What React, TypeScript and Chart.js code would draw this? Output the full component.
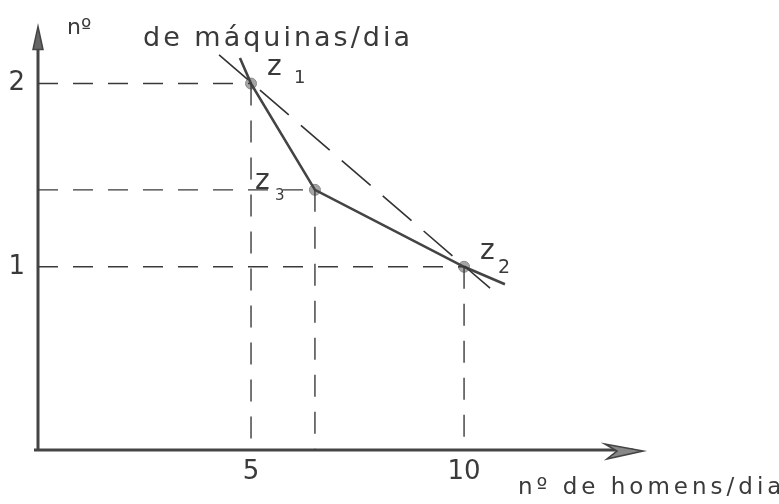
import { useEffect, useRef } from "react";
import { Chart, registerables } from "chart.js";

Chart.register(...registerables);

// Axis tick labels
const xTickValues = [5, 10];
const yTickValues = [1, 2];

// Production points Z1, Z3, Z2 (men/day, machines/day)
const pointNames = ["z", "z", "z"];
const pointSubs = ["1", "3", "2"];
const pointX = [5, 6.5, 10];
const pointY = [2, 1.42, 1];

// Solid polyline Z1 -> Z3 -> Z2, with the pencil overshoot at both ends
const solidX = [4.74, 5, 6.5, 10, 10.96];
const solidY = [2.14, 2, 1.42, 1, 0.905];

// Dashed chord through Z1 and Z2
const chordX = [4.25, 10.61];
const chordY = [2.157, 0.883];

// Axis ranges
const X_MAX = 14.2;
const Y_MAX = 2.3;

const xTitle = "nº de homens/dia";
const yTitleA = "nº";
const yTitleB = "de máquinas/dia";

const INK = "#3a3a3a";
const HAND = "'DejaVu Sans', 'Liberation Sans', sans-serif";

const toPts = (xs: number[], ys: number[]) => xs.map((x, i) => ({ x, y: ys[i] }));

export default function App() {
  const ref = useRef<HTMLCanvasElement | null>(null);

  useEffect(() => {
    if (!ref.current) return;

    const guides: any[] = [];
    pointX.forEach((px, i) => {
      const py = pointY[i];
      guides.push({
        data: [{ x: 0, y: py }, { x: px, y: py }],
        showLine: true,
        borderColor: INK,
        borderWidth: 1.4,
        borderDash: [20, 15],
        pointRadius: 0,
      });
      guides.push({
        data: [{ x: px, y: py }, { x: px, y: 0 }],
        showLine: true,
        borderColor: INK,
        borderWidth: 1.4,
        borderDash: [22, 15],
        pointRadius: 0,
      });
    });

    const axesPlugin = {
      id: "handAxes",
      beforeDatasetsDraw(chart: any) {
        const { ctx, scales } = chart;
        const xs = scales.x;
        const ys = scales.y;
        const x0 = xs.getPixelForValue(0);
        const y0 = ys.getPixelForValue(0);
        ctx.save();
        ctx.strokeStyle = "#444";
        ctx.fillStyle = "#666";
        ctx.lineWidth = 3;
        // vertical axis
        ctx.beginPath();
        ctx.moveTo(x0, y0 + 1);
        ctx.lineTo(x0, ys.top + 18);
        ctx.stroke();
        ctx.beginPath();
        ctx.moveTo(x0, ys.top - 2);
        ctx.lineTo(x0 - 5, ys.top + 21);
        ctx.lineTo(x0 + 5, ys.top + 21);
        ctx.closePath();
        ctx.fill();
        ctx.lineWidth = 1.5;
        ctx.stroke();
        // horizontal axis
        ctx.lineWidth = 3;
        ctx.beginPath();
        ctx.moveTo(x0 - 4, y0);
        ctx.lineTo(xs.right - 10, y0);
        ctx.stroke();
        ctx.beginPath();
        ctx.moveTo(xs.right, y0 + 1);
        ctx.lineTo(xs.right - 38, y0 - 6);
        ctx.lineTo(xs.right - 26, y0 + 1);
        ctx.lineTo(xs.right - 36, y0 + 9);
        ctx.closePath();
        ctx.fillStyle = "#888";
        ctx.fill();
        ctx.lineWidth = 1.6;
        ctx.stroke();
        ctx.restore();
      },
      afterDatasetsDraw(chart: any) {
        const { ctx, scales } = chart;
        const xs = scales.x;
        const ys = scales.y;
        ctx.save();
        ctx.fillStyle = INK;
        ctx.textBaseline = "alphabetic";
        ctx.textAlign = "left";

        // vertical axis title
        ctx.font = `22px ${HAND}`;
        (ctx as any).letterSpacing = "0px";
        ctx.fillText(yTitleA, 67, 34);
        ctx.font = `27px ${HAND}`;
        (ctx as any).letterSpacing = "3px";
        ctx.fillText(yTitleB, 143, 46);

        // horizontal axis title
        ctx.font = `23px ${HAND}`;
        (ctx as any).letterSpacing = "4px";
        ctx.fillText(xTitle, 518, 494);
        (ctx as any).letterSpacing = "0px";

        // point names with subscripts
        const offs = [
          { nx: 16, ny: -9, sx: 43, sy: -1, ss: 18 },
          { nx: -60, ny: -1, sx: -40, sy: 10, ss: 15 },
          { nx: 16, ny: -8, sx: 34, sy: 6, ss: 19 },
        ];
        pointX.forEach((v, i) => {
          const px = xs.getPixelForValue(v);
          const py = ys.getPixelForValue(pointY[i]);
          const o = offs[i];
          ctx.font = `28px ${HAND}`;
          ctx.fillText(pointNames[i], px + o.nx, py + o.ny);
          ctx.font = `${o.ss}px ${HAND}`;
          ctx.fillText(pointSubs[i], px + o.sx, py + o.sy);
        });
        ctx.restore();
      },
    };

    const chart = new Chart(ref.current, {
      type: "scatter",
      data: {
        datasets: [
          ...guides,
          {
            data: toPts(chordX, chordY),
            showLine: true,
            borderColor: "#333",
            borderWidth: 1.6,
            borderDash: [38, 16],
            pointRadius: 0,
          },
          {
            data: toPts(solidX, solidY),
            showLine: true,
            borderColor: "#444",
            borderWidth: 2.6,
            pointRadius: 0,
          },
          {
            data: toPts(pointX, pointY),
            showLine: false,
            pointRadius: 5.5,
            pointBackgroundColor: "#a6a6a6",
            pointBorderColor: "#8a8a8a",
            pointBorderWidth: 1,
          },
        ],
      },
      options: {
        animation: false,
        responsive: false,
        events: [],
        layout: { padding: { top: 25, right: 136, left: 0, bottom: 0 } },
        plugins: { legend: { display: false }, tooltip: { enabled: false } },
        scales: {
          x: {
            type: "linear",
            min: 0,
            max: X_MAX,
            grid: { display: false, drawTicks: false },
            border: { display: false },
            ticks: {
              padding: 7,
              color: INK,
              font: { family: HAND, size: 26 },
            },
            afterBuildTicks: (s: any) => {
              s.ticks = xTickValues.map((value) => ({ value }));
            },
            afterFit: (s: any) => {
              s.height = 54;
            },
          },
          y: {
            type: "linear",
            min: 0,
            max: Y_MAX,
            grid: { display: false, drawTicks: false },
            border: { display: false },
            ticks: {
              padding: 13,
              color: INK,
              font: { family: HAND, size: 26 },
            },
            afterBuildTicks: (s: any) => {
              s.ticks = yTickValues.map((value) => ({ value }));
            },
            afterFit: (s: any) => {
              s.width = 38;
            },
          },
        },
      },
      plugins: [axesPlugin],
    });

    return () => chart.destroy();
  }, []);

  return (
    <div style={{ position: "absolute", left: 0, top: 0, width: 779, height: 504, background: "#fff" }}>
      <canvas ref={ref} width={779} height={504} style={{ width: 779, height: 504, display: "block" }} />
    </div>
  );
}
